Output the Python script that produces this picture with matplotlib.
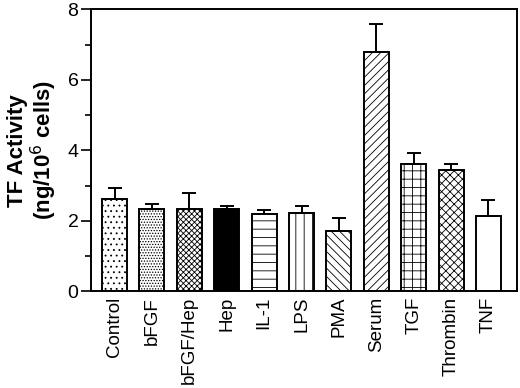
import numpy as np
import matplotlib
matplotlib.use("Agg")
import matplotlib.pyplot as plt

plt.rcParams['font.family'] = ['Liberation Sans', 'DejaVu Sans']
plt.rcParams['hatch.linewidth'] = 0.6

labels = ['Control', 'bFGF', 'bFGF/Hep', 'Hep', 'IL-1', 'LPS', 'PMA', 'Serum', 'TGF', 'Thrombin', 'TNF']
values = [2.62, 2.35, 2.35, 2.33, 2.2, 2.23, 1.7, 6.78, 3.6, 3.43, 2.15]
errors = [0.32, 0.14, 0.44, 0.09, 0.1, 0.2, 0.38, 0.8, 0.32, 0.18, 0.44]
hatches = ['...', '......', 'xxxxxx', '', '--', '||', '\\\\\\\\', '////', '++', 'xxxx', '']
fills = ['white', 'white', 'white', 'black', 'white', 'white', 'white', 'white', 'white', 'white', 'white']

fig = plt.figure(figsize=(5.2, 3.88), dpi=100)
ax = fig.add_axes([0.175, 0.249, 0.819, 0.727])

x = np.arange(len(labels))
bars = ax.bar(x, values, width=0.67, color=fills, edgecolor='black', linewidth=1.4,
              yerr=[np.zeros(len(errors)), errors],
              error_kw=dict(ecolor='black', elinewidth=1.4, capsize=5, capthick=1.4))
for b, h in zip(bars, hatches):
    b.set_hatch(h)

ax.set_xlim(-0.63, 10.76)
ax.set_ylim(0, 8)
ax.set_yticks([0, 2, 4, 6, 8])
ax.set_yticks([1, 3, 5, 7], minor=True)
ax.set_xticks(x)
ax.set_xticklabels(labels, rotation=90, fontsize=13.5)
ax.tick_params(axis='x', length=0, pad=4)
ax.tick_params(axis='y', which='major', length=7, width=1.2, labelsize=14, direction='out', pad=2)
ax.tick_params(axis='y', which='minor', length=4, width=1.2, direction='out')
for s in ax.spines.values():
    s.set_linewidth(1.4)

ax.set_ylabel('TF Activity\n(ng/10$^{6}$ cells)', fontsize=16, fontweight='bold', labelpad=6,
              linespacing=1.05)

fig.savefig('out.png', dpi=100)
